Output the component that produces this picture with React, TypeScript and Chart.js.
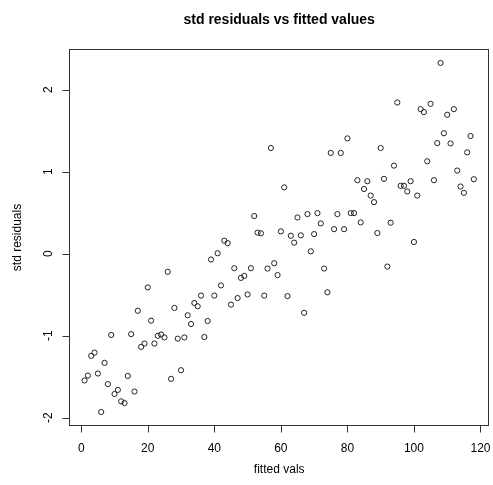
import React, { useEffect, useRef } from "react";
import { Chart, registerables } from "chart.js";

Chart.register(...registerables);

const fittedVals: number[] = [
  1, 2, 3, 4, 5, 6, 7, 8, 9, 10, 11, 12, 13, 14, 15, 16, 17, 18, 19, 20,
  21, 22, 23, 24, 25, 26, 27, 28, 29, 30, 31, 32, 33, 34, 35, 36, 37, 38, 39, 40,
  41, 42, 43, 44, 45, 46, 47, 48, 49, 50, 51, 52, 53, 54, 55, 56, 57, 58, 59, 60,
  61, 62, 63, 64, 65, 66, 67, 68, 69, 70, 71, 72, 73, 74, 75, 76, 77, 78, 79, 80,
  81, 82, 83, 84, 85, 86, 87, 88, 89, 90, 91, 92, 93, 94, 95, 96, 97, 98, 99, 100,
  101, 102, 103, 104, 105, 106, 107, 108, 109, 110, 111, 112, 113, 114, 115, 116, 117, 118,
];

const stdResiduals: number[] = [
  -1.545, -1.485, -1.245, -1.205, -1.46, -1.93, -1.33, -1.59, -0.99, -1.71,
  -1.66, -1.8, -1.82, -1.49, -0.98, -1.68, -0.695, -1.135, -1.095, -0.41,
  -0.815, -1.095, -1.0, -0.985, -1.02, -0.22, -1.525, -0.66, -1.035, -1.42,
  -1.02, -0.75, -0.857, -0.6, -0.64, -0.51, -1.015, -0.82, -0.07, -0.51,
  0.006, -0.386, 0.16, 0.13, -0.62, -0.176, -0.54, -0.294, -0.27, -0.496,
  -0.176, 0.46, 0.258, 0.25, -0.51, -0.18, 1.29, -0.115, -0.26, 0.273,
  0.81, -0.516, 0.22, 0.136, 0.443, 0.225, -0.72, 0.484, 0.03, 0.24,
  0.496, 0.37, -0.18, -0.47, 1.23, 0.3, 0.484, 1.23, 0.3, 1.407,
  0.496, 0.496, 0.897, 0.383, 0.79, 0.885, 0.71, 0.63, 0.253, 1.29,
  0.914, -0.156, 0.379, 1.075, 1.845, 0.829, 0.829, 0.76, 0.885, 0.144,
  0.71, 1.764, 1.728, 1.128, 1.829, 0.897, 1.35, 2.327, 1.47, 1.695,
  1.346, 1.764, 1.015, 0.82, 0.743, 1.237, 1.436, 0.909,
];

const xTicks: number[] = [0, 20, 40, 60, 80, 100, 120];
const yTicks: number[] = [-2, -1, 0, 1, 2];

const titleText = "std residuals vs fitted values";
const xTitle = "fitted vals";
const yTitle = "std residuals";

const FONT = "'Liberation Sans', Arial, Helvetica, sans-serif";

function rRange(vals: number[]): [number, number] {
  const lo = Math.min(...vals);
  const hi = Math.max(...vals);
  const pad = (hi - lo) * 0.04;
  return [lo - pad, hi + pad];
}

const rAxesPlugin = {
  id: "rAxes",
  afterDraw(chart: any) {
    const { ctx, chartArea } = chart;
    const xs = chart.scales.x;
    const ys = chart.scales.y;
    const { left, right, top, bottom } = chartArea;
    ctx.save();
    ctx.strokeStyle = "#333";
    ctx.lineWidth = 1;
    // box
    ctx.strokeRect(Math.round(left) + 0.5, Math.round(top) + 0.5, Math.round(right - left) - 1, Math.round(bottom - top) - 1);

    const by = Math.round(bottom) - 0.5;
    // x axis line and ticks
    ctx.beginPath();
    const x0 = Math.round(xs.getPixelForValue(xTicks[0])) + 0.5;
    const x1 = Math.round(xs.getPixelForValue(xTicks[xTicks.length - 1])) + 0.5;
    ctx.moveTo(x0, by);
    ctx.lineTo(x1, by);
    xTicks.forEach((t) => {
      const px = Math.round(xs.getPixelForValue(t)) + 0.5;
      ctx.moveTo(px, by);
      ctx.lineTo(px, by + 7);
    });
    // y axis ticks
    const lx = Math.round(left) + 0.5;
    yTicks.forEach((t) => {
      const py = Math.round(ys.getPixelForValue(t)) + 0.5;
      ctx.moveTo(lx, py);
      ctx.lineTo(lx - 7, py);
    });
    ctx.stroke();

    ctx.fillStyle = "#000";
    ctx.font = `12px ${FONT}`;
    ctx.textAlign = "center";
    ctx.textBaseline = "middle";
    xTicks.forEach((t) => {
      ctx.fillText(String(t), xs.getPixelForValue(t), bottom + 23);
    });
    yTicks.forEach((t) => {
      ctx.save();
      ctx.translate(left - 20, ys.getPixelForValue(t));
      ctx.rotate(-Math.PI / 2);
      ctx.fillText(String(t), 0, 0);
      ctx.restore();
    });

    // axis titles
    ctx.fillText(xTitle, (left + right) / 2, bottom + 44);
    ctx.save();
    ctx.translate(left - 51, (top + bottom) / 2);
    ctx.rotate(-Math.PI / 2);
    ctx.fillText(yTitle, 0, 0);
    ctx.restore();

    // main title
    ctx.font = `bold 14px ${FONT}`;
    ctx.fillText(titleText, (left + right) / 2, 20);
    ctx.restore();
  },
};

export default function App() {
  const ref = useRef<HTMLCanvasElement | null>(null);
  useEffect(() => {
    if (!ref.current) return;
    const [xMin, xMax] = rRange(fittedVals);
    const [yMin, yMax] = rRange(stdResiduals);
    const chart = new Chart(ref.current, {
      type: "scatter",
      data: {
        datasets: [
          {
            data: fittedVals.map((x, i) => ({ x, y: stdResiduals[i] })),
            pointStyle: "circle",
            pointRadius: 2.6,
            pointHoverRadius: 2.6,
            backgroundColor: "rgba(0,0,0,0)",
            borderColor: "#222",
            borderWidth: 1,
            showLine: false,
          },
        ],
      },
      options: {
        responsive: false,
        animation: false,
        events: [],
        layout: { padding: { left: 69, right: 1, top: 49, bottom: 59 } },
        plugins: {
          legend: { display: false },
          tooltip: { enabled: false },
          title: { display: false },
        },
        scales: {
          x: { type: "linear", min: xMin, max: xMax, display: false },
          y: { type: "linear", min: yMin, max: yMax, display: false },
        },
      },
      plugins: [rAxesPlugin],
    });
    return () => chart.destroy();
  }, []);
  return (
    <div style={{ position: "absolute", left: 0, top: 0, width: 493, height: 485, background: "#fff" }}>
      <canvas ref={ref} width={493} height={485} style={{ width: 493, height: 485, display: "block" }} />
    </div>
  );
}
